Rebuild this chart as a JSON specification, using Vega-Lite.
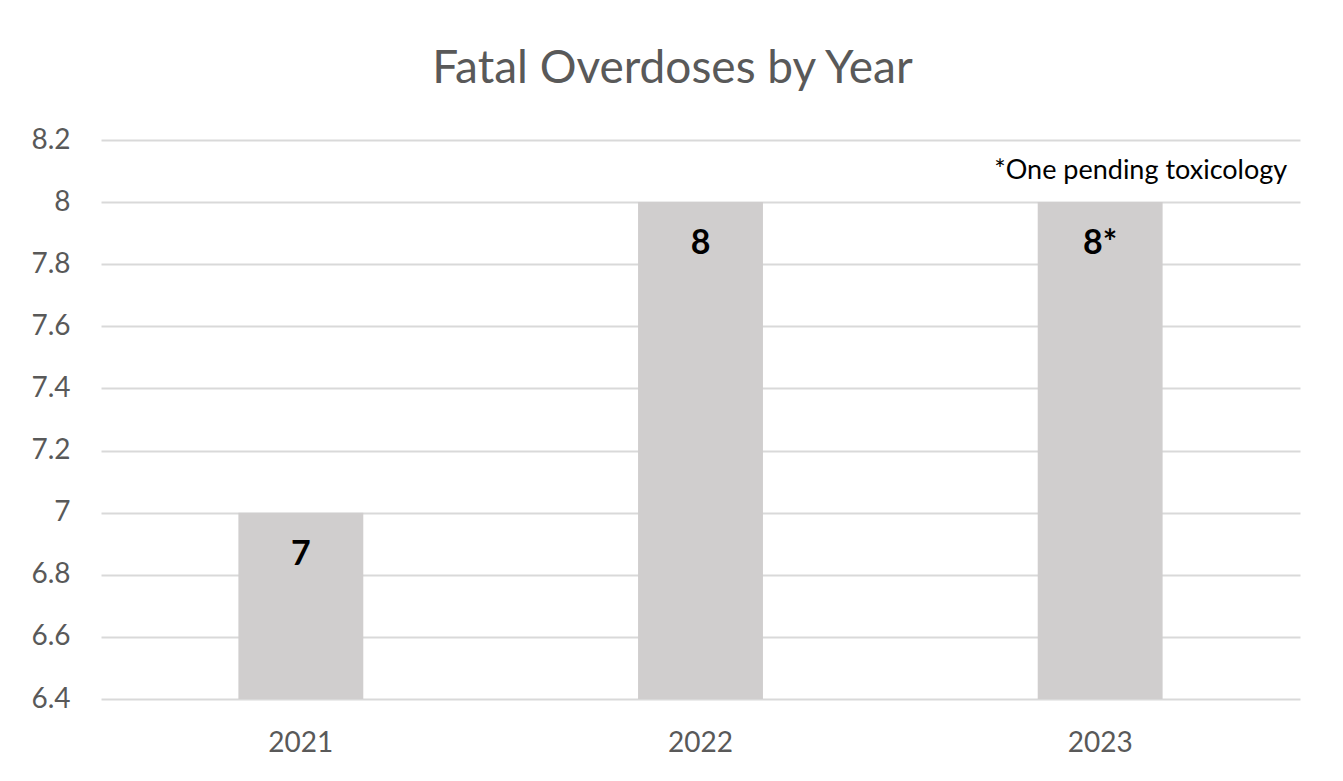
{
  "$schema": "https://vega.github.io/schema/vega-lite/v6.json",
  "autosize": "none",
  "width": 1199,
  "height": 559,
  "padding": {"left": 101, "top": 140, "right": 43, "bottom": 82},
  "background": "white",
  "config": {
    "view": {"stroke": null},
    "font": "Lato"
  },
  "title": {
    "text": "Fatal Overdoses by Year",
    "font": "Lato",
    "fontSize": 46,
    "fontWeight": "normal",
    "color": "#595959",
    "anchor": "middle",
    "offset": 33,
    "dx": -28
  },
  "data": {
    "values": [
      {"year": "2021", "value": 7, "label": "7"},
      {"year": "2022", "value": 8, "label": "8"},
      {"year": "2023", "value": 8, "label": "8*"}
    ]
  },
  "encoding": {
    "x": {
      "field": "year",
      "type": "nominal",
      "sort": null,
      "scale": {"paddingInner": 0.6875, "paddingOuter": 0.34375},
      "axis": {
        "title": null,
        "labelAngle": 0,
        "labelFont": "Lato",
        "labelFontSize": 28,
        "labelColor": "#595959",
        "labelPadding": 30,
        "ticks": false,
        "domain": false,
        "grid": false
      }
    }
  },
  "layer": [
    {
      "mark": {"type": "bar", "color": "#d0cece"},
      "encoding": {
        "y": {
          "field": "value",
          "type": "quantitative",
          "scale": {"domain": [6.4, 8.2], "zero": false, "nice": false},
          "axis": {
            "title": null,
            "values": [6.4, 6.6, 6.8, 7, 7.2, 7.4, 7.6, 7.8, 8, 8.2],
            "format": ".1~f",
            "labelFont": "Lato",
            "labelFontSize": 28,
            "labelColor": "#595959",
            "labelPadding": 31,
            "ticks": false,
            "domain": false,
            "grid": true,
            "gridColor": "#d9d9d9",
            "gridWidth": 2
          }
        },
        "y2": {"datum": 6.4}
      }
    },
    {
      "mark": {"type": "text", "font": "Lato", "fontSize": 34, "fontWeight": "bold", "color": "#000000", "baseline": "middle", "dy": 42},
      "encoding": {
        "y": {"field": "value", "type": "quantitative"},
        "text": {"field": "label"}
      }
    },
    {
      "data": {"values": [{"year": "2023", "value": 8.1, "note": "*One pending toxicology"}]},
      "mark": {"type": "text", "font": "Lato", "fontSize": 27, "color": "#000000", "align": "right", "baseline": "middle", "dx": 187},
      "encoding": {
        "y": {"field": "value", "type": "quantitative"},
        "text": {"field": "note"}
      }
    }
  ]
}
